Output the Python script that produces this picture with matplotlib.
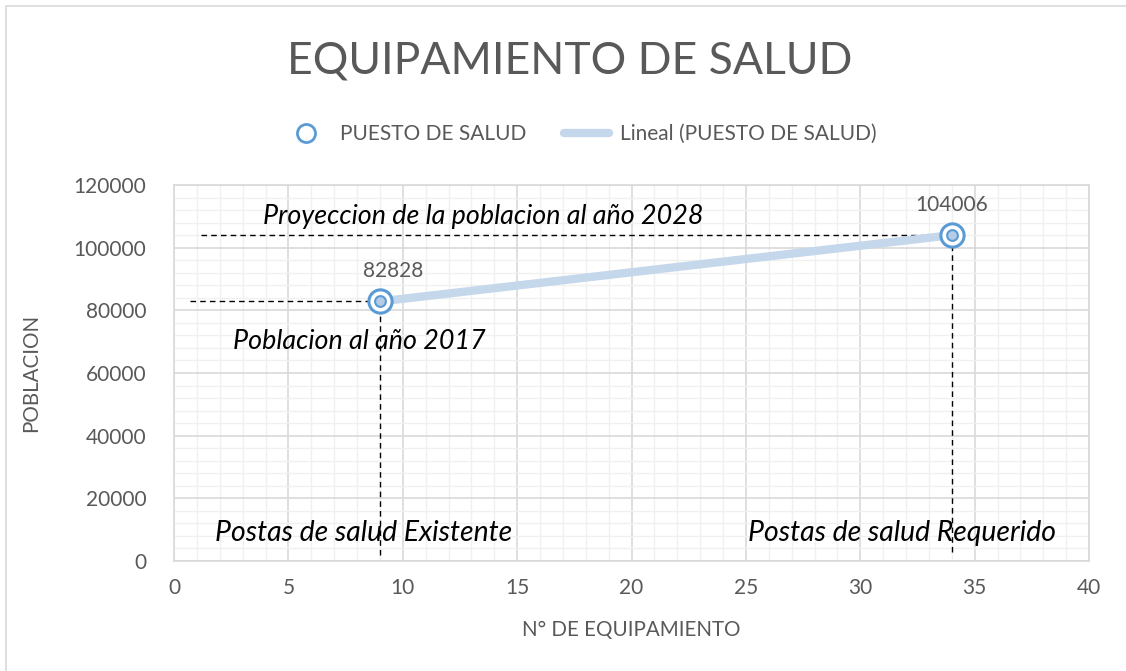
import matplotlib.pyplot as plt
from matplotlib.lines import Line2D
from matplotlib.patches import Rectangle
from matplotlib.ticker import MultipleLocator
import numpy as np

# data
equipamiento = [9, 34]
poblacion = [82828, 104006]
etiquetas = ["82828", "104006"]

GRAY = "#595959"
BLUE = "#5b9bd5"
TREND = "#c5d7ea"
FONT = "Lato"

plt.rcParams["font.family"] = [FONT, "DejaVu Sans"]

fig = plt.figure(figsize=(11.26, 6.71), dpi=100)
fig.patches.append(Rectangle((6 / 1126, -0.1), 1.2, 1 - 6 / 671 + 0.1, transform=fig.transFigure,
                             fill=False, edgecolor="#d9d9d9", linewidth=1.2, zorder=0))
ax = fig.add_axes([174 / 1126, 1 - 561 / 671, (1089 - 174) / 1126, (561 - 185) / 671])

# trend line (linear fit)
coef = np.polyfit(equipamiento, poblacion, 1)
xt = np.array([min(equipamiento), max(equipamiento)])
ax.plot(xt, np.polyval(coef, xt), color=TREND, lw=6, solid_capstyle="round", zorder=3)

# markers: ring + inner dot
ax.scatter(equipamiento, poblacion, s=280, facecolor="white", edgecolor=BLUE, linewidth=2.2, zorder=4)
ax.scatter(equipamiento, poblacion, s=60, facecolor="#b4cce6", edgecolor=BLUE, linewidth=1.5, zorder=5)

for x, y, t in zip(equipamiento, poblacion, etiquetas):
    ax.text(x + 0.6 if x < 20 else x, y + 6500, t, ha="center", va="bottom", color=GRAY, fontsize=15)

# dashed guide lines
dash = dict(color="black", lw=1, ls=(0, (4, 3)), zorder=2)
ax.plot([1.2, 33.4], [poblacion[1]] * 2, **dash)
ax.plot([0.7, 8.5], [poblacion[0]] * 2, **dash)
ax.plot([9, 9], [2000, poblacion[0] - 2500], **dash)
ax.plot([34, 34], [2800, poblacion[1] - 2500], **dash)

# annotations
note = dict(fontsize=19.4, style="italic", color="black", va="center", ha="left", zorder=6)
ax.text(3.9, 110000, "Proyeccion de la poblacion al año 2028", **note)
ax.text(2.6, 70000, "Poblacion al año 2017", **note)
ax.text(1.8, 9000, "Postas de salud Existente", fontsize=20.4, **{k: v for k, v in note.items() if k != "fontsize"})
ax.text(25.1, 9000, "Postas de salud Requerido", fontsize=20.4, **{k: v for k, v in note.items() if k != "fontsize"})

ax.set_xlim(0, 40)
ax.set_ylim(0, 120000)
ax.xaxis.set_major_locator(MultipleLocator(5))
ax.xaxis.set_minor_locator(MultipleLocator(1))
ax.yaxis.set_major_locator(MultipleLocator(20000))
ax.yaxis.set_minor_locator(MultipleLocator(4000))
ax.grid(which="minor", color="#f0f0f0", lw=1, zorder=0)
ax.grid(which="major", color="#d9d9d9", lw=1.2, zorder=1)
ax.set_axisbelow(True)
for s in ax.spines.values():
    s.set_color("#d9d9d9")
    s.set_linewidth(1.2)
ax.tick_params(which="both", length=0, labelsize=15, labelcolor=GRAY)
ax.tick_params(axis="x", pad=12)
ax.tick_params(axis="y", pad=20)

ax.set_xlabel("N° DE EQUIPAMIENTO", fontsize=14.8, color=GRAY)
ax.set_ylabel("POBLACION", fontsize=14.8, color=GRAY)
ax.xaxis.set_label_coords(0.5, -(630 - 561) / 376, transform=ax.transAxes)
ax.yaxis.set_label_coords(-(174 - 31) / 915, 0.5, transform=ax.transAxes)
ax.xaxis.label.set_va("center")
ax.yaxis.label.set_va("center")

fig.text(570 / 1126, 1 - 61 / 671, "EQUIPAMIENTO DE SALUD", ha="center", va="center",
         fontsize=32, color=GRAY, fontweight="normal")

handles = [
    Line2D([], [], ls="none", marker="o", ms=13, mfc="white", mec=BLUE, mew=2),
    Line2D([], [], color=TREND, lw=6, solid_capstyle="round"),
]
fig.legend(handles, ["PUESTO DE SALUD", "Lineal (PUESTO DE SALUD)"], loc="center",
           bbox_to_anchor=(580 / 1126, 1 - 134 / 671), ncol=2, frameon=False,
           fontsize=15, labelcolor=GRAY, handlelength=2.2, columnspacing=1.8, handletextpad=0.5)

fig.savefig("out.png", dpi=100)
